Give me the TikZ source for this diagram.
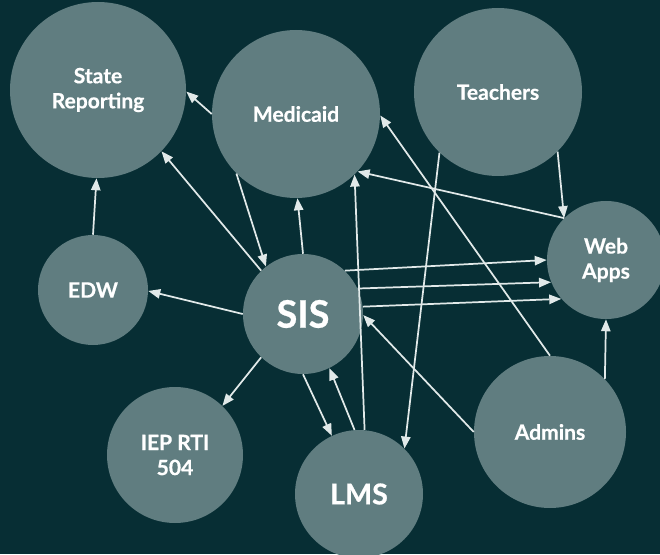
\documentclass[tikz,border=0pt]{standalone}
\usepackage{fontspec}
\setmainfont{Lato}[BoldFeatures={FakeBold=0.6}]
\usetikzlibrary{arrows.meta}
\definecolor{bg}{RGB}{7,46,52}
\definecolor{bubble}{RGB}{96,125,128}
\definecolor{arrowc}{RGB}{225,233,233}
\begin{document}
\begin{tikzpicture}[x=0.75pt,y=0.75pt,
 bub/.style={circle,fill=bubble,inner sep=0pt,text=white,align=center,font=\bfseries\fontsize{15.8}{18.8}\selectfont},
 link/.style={draw=arrowc,line width=1.3pt,-{Triangle[length=9pt,width=7pt]}}]
\fill[bg] (0,0) rectangle (660,554);
\useasboundingbox (0,0) rectangle (660,554);
\clip (0,0) rectangle (660,554);
\node[bub,minimum size=132pt] (sr) at (98,464) {State\\Reporting};
\node[bub,minimum size=126pt] (med) at (296,440) {Medicaid};
\node[bub,minimum size=126pt] (tea) at (498,462) {Teachers};
\node[bub,minimum size=88.5pt] (web) at (606,294) {Web\\Apps};
\node[bub,minimum size=82.5pt] (edw) at (93,264) {EDW};
\node[bub,minimum size=90pt,font=\bfseries\fontsize{28.5}{32}\selectfont] (sis) at (303,240) {SIS};
\node[bub,minimum size=102pt] (iep) at (175,99) {IEP RTI\\504};
\node[bub,minimum size=96pt,font=\bfseries\fontsize{21.5}{25}\selectfont] (lms) at (359,60) {LMS};
\node[bub,minimum size=114pt] (adm) at (550,122) {Admins};
% connectors
\draw[link] (med.180) -- (sr.-1);
\draw[link] (sis.134) -- (sr.-44);
\draw[link] (med.-135) -- (sis.128);
\draw[link] (edw.90) -- (sr.-91);
\draw[link] (sis.90) -- (med.-89);
\draw[link] (sis.180) -- (edw.-1);
\draw[link] (sis.-134) -- (iep.46);
\draw[link] (sis.-90) -- (lms.115);
\draw[link] (lms.94) -- (sis.-64);
\draw[link] (lms.85) -- (med.-46);
\draw[link] (web.135) -- (med.-43);
\draw[link] (tea.-45) -- (web.135);
\draw[link] (tea.-134) -- (lms.45);
\draw[link] (adm.90) -- (med.-1);
\draw[link] (adm.180) -- (sis.-1);
\draw[link] (adm.44) -- (web.-90);
\draw[link] (sis.46) -- (web.180);
\draw[link] (sis.25) -- (web.-158);
\draw[link] (sis.7) -- (web.-139);
\end{tikzpicture}
\end{document}
